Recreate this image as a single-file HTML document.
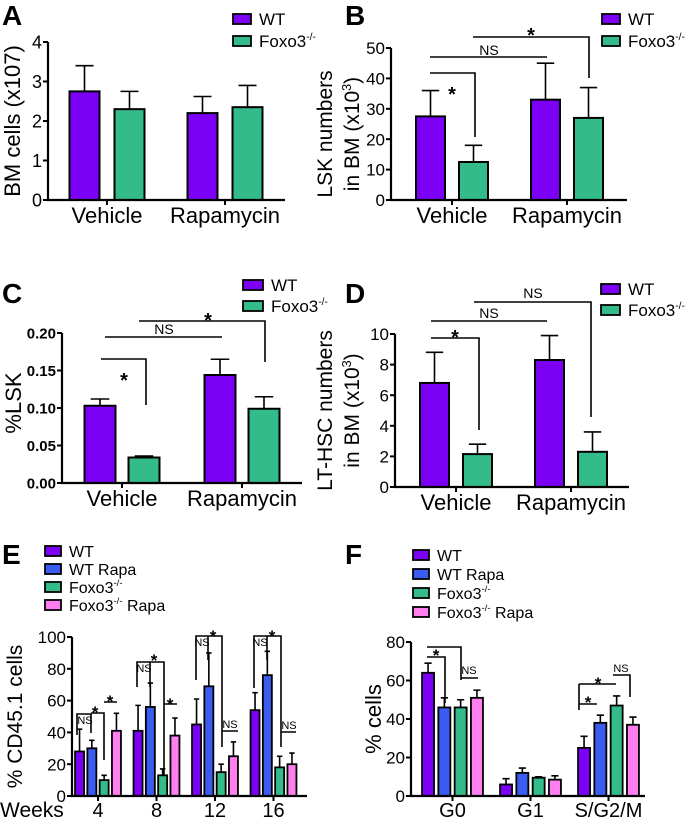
<!DOCTYPE html>
<html><head><meta charset="utf-8"><style>
html,body{margin:0;padding:0;background:#fff;}
svg{display:block;font-family:"Liberation Sans",Arial,sans-serif;}
</style></head><body>
<svg id="fig" width="686" height="822" viewBox="0 0 686 822" xmlns="http://www.w3.org/2000/svg">
<g id="static" fill="none" stroke="#000" stroke-width="1.6">
<path d="M430,73 H475 V137"/>
<path d="M430,57 H547"/>
<path d="M473,37 H589 V78"/>
<path d="M101,359 H146 V405"/>
<path d="M105,337 H222"/>
<path d="M139,321 H265 V362"/>
<path d="M431,338 H479 V430"/>
<path d="M431,321 H547"/>
<path d="M474,302 H591 V417"/>
<path d="M77,735 V714 H91 V733 M91,713 H104 V760 M104,702 H117 M137,687 V662 H150 V687 M150,662 H164 V777 M164,704 H177 M196,680 V636 H208 V660 M208,636 H222 V747 M222,731 H238 M254,688 V636 H267 V660 M267,636 H281 V747 M281,732 H296"/>
<path d="M427,657 H445 V703 M427,647 H461 V680 M461,678 H478 M579,704 H597 M579,684 H616 M613,675 H630 V697 M579,684 V710"/>
</g>
<g id="statictext" font-size="14" fill="#000">
<text x="452" y="101" font-size="20" font-weight="bold" text-anchor="middle">*</text>
<text x="489" y="55" font-size="14" text-anchor="middle">NS</text>
<text x="531" y="42" font-size="20" font-weight="bold" text-anchor="middle">*</text>
<text x="124" y="387" font-size="20" font-weight="bold" text-anchor="middle">*</text>
<text x="164" y="334" font-size="14" text-anchor="middle">NS</text>
<text x="208" y="327" font-size="20" font-weight="bold" text-anchor="middle">*</text>
<text x="455" y="344" font-size="20" font-weight="bold" text-anchor="middle">*</text>
<text x="489" y="318" font-size="14" text-anchor="middle">NS</text>
<text x="533" y="298" font-size="14" text-anchor="middle">NS</text>
<g font-size="11" text-anchor="middle">
<text x="85" y="724">NS</text>
<text x="144" y="672">NS</text>
<text x="202" y="646">NS</text>
<text x="230" y="728">NS</text>
<text x="260" y="646">NS</text>
<text x="289" y="729">NS</text>
<text x="469" y="674">NS</text>
<text x="621" y="672">NS</text>
</g>
<g font-size="17" font-weight="bold" text-anchor="middle">
<text x="95" y="718">*</text>
<text x="110" y="707">*</text>
<text x="154" y="666">*</text>
<text x="170" y="710">*</text>
<text x="213" y="642">*</text>
<text x="272" y="642">*</text>
<text x="436" y="661">*</text>
<text x="588" y="708">*</text>
<text x="598" y="689">*</text>
</g>
</g>
</svg>
<script>
// ---- data ----
const catsAD = ["Vehicle","Rapamycin"];
const seriesAD = ["WT","Foxo3-/-"];
const aVals = [[2.75,2.3],[2.2,2.35]];
const aErr  = [[3.4,2.75],[2.62,2.9]];
const aTicks = [0,1,2,3,4];
const bVals = [[27.5,12.5],[33,27]];
const bErr  = [[36,18],[45,37]];
const bTicks = [0,10,20,30,40,50];
const cVals = [[0.103,0.034],[0.144,0.099]];
const cErr  = [[0.112,0.036],[0.165,0.115]];
const cTicks = ["0.00","0.05","0.10","0.15","0.20"];
const dVals = [[6.8,2.15],[8.3,2.3]];
const dErr  = [[8.8,2.8],[9.9,3.6]];
const dTicks = [0,2,4,6,8,10];
const eCats = ["4","8","12","16"];
const seriesEF = ["WT","WT Rapa","Foxo3-/-","Foxo3-/- Rapa"];
const eVals = [[28,30,10,41],[41,56,13,38],[45,69,15,25],[54,76,18,20]];
const eErr  = [[42,35,13,52],[57,71,17,49],[61,90,20,34],[65,91,25,27]];
const eTicks = [0,20,40,60,80,100];
const fCats = ["G0","G1","S/G2/M"];
const fVals = [[64,46,46,51],[6,12,9.5,8.5],[25,38,47,37]];
const fErr  = [[69,51,50,55],[9,14.5,10,10.5],[31,42,52,41]];
const fTicks = [0,20,40,60,80];
const colors = ["#7c00f5","#3a5cf0","#33bb8a","#ff7ef0"];
const colorsAD = ["#7c00f5","#33bb8a"];

const NS="http://www.w3.org/2000/svg";
const svg=document.getElementById('fig');
function mk(tag,attrs,parent){const e=document.createElementNS(NS,tag);for(const k in attrs)e.setAttribute(k,attrs[k]);(parent||svg).appendChild(e);return e;}

function panel(p){
  const g=mk('g',{});
  
  
  const y=v=>p.y0-(v/p.vmax)*(p.y0-p.yTop);
  const gx=i=>p.c0+i*p.gs;
  const bx=(i,j,n)=>gx(i)+(j-(n-1)/2)*p.step-p.bw/2;
  p.vals.forEach((row,i)=>row.forEach((v,j)=>{
    const n=row.length, x=bx(i,j,n), e=p.err[i][j];
    const cx=x+p.bw/2;
    const ln=mk('path',{d:`M${cx},${y(v)} V${y(e)} M${cx-p.bw*0.3},${y(e)} H${cx+p.bw*0.3}`,stroke:'#000','stroke-width':1.6,fill:'none'},g);
    
    
    const r=mk('rect',{x:x,y:y(v),width:p.bw,height:p.y0-y(v),fill:p.colors[j],stroke:'#000','stroke-width':p.sw},g);
    
    
  }));
  const ax=mk('path',{d:`M${p.ax},${p.yTop} V${p.y0} H${p.xEnd}`,stroke:'#000','stroke-width':2.2,fill:'none'},g);
  
  
  p.ticks.forEach(t=>{
    const v=parseFloat(t), yy=y(v);
    mk('path',{d:`M${p.ax-5},${yy} H${p.ax}`,stroke:'#000','stroke-width':2},g);
    const tx=mk('text',{x:p.ax-6,y:yy+p.tfs*0.36,'text-anchor':'end','font-size':p.tfs,'font-weight':p.tbold?'bold':'normal'},g);
    tx.textContent=t;
    
    
  });
  p.cats.forEach((c,i)=>{
    mk('path',{d:`M${gx(i)},${p.y0} V${p.y0+5}`,stroke:'#000','stroke-width':2},g);
    const tx=mk('text',{x:gx(i),y:p.y0+p.cfs+1,'text-anchor':'middle','font-size':p.cfs},g);
    tx.textContent=c;
    
    
  });
  p.series.forEach((s,j)=>{
    const ly=p.leg[1]+j*p.leg[2];
    const r=mk('rect',{x:p.leg[0],y:ly,width:p.leg[3],height:10,fill:p.colors[j],stroke:'#000','stroke-width':1.8},g);
    
    
    const t=mk('text',{x:p.leg[0]+p.leg[3]+8,y:ly+11,'font-size':p.lfs},g);
    
    
    if(s.indexOf('-/-')>=0){
      const parts=s.split('-/-');
      t.appendChild(document.createTextNode(parts[0]));
      const sp=mk('tspan',{'font-size':p.lfs*0.6,dy:-7},t);sp.textContent='-/-';
      if(parts[1]){const sp2=mk('tspan',{dy:7},t);sp2.textContent=parts[1];}
    } else t.textContent=s;
  });
  p.ytitle.forEach((line,k)=>{
    const t=mk('text',{transform:`translate(${line[1]},${(p.y0+p.yTop)/2+(p.ymid||0)}) rotate(-90)`,'text-anchor':'middle','font-size':p.yfs},g);
    
    
    const txt=line[0];
    if(txt.indexOf('^')>=0){
      const [a,b]=txt.split('^');const [sup,rest]=b.split('|');
      t.appendChild(document.createTextNode(a));
      const s1=mk('tspan',{'font-size':p.yfs*0.6,dy:-8},t);s1.textContent=sup;
      const s2=mk('tspan',{dy:8},t);s2.textContent=rest;
    } else t.textContent=txt;
  });
  const L=mk('text',{x:p.letter[0],y:p.letter[1],'font-size':28,'font-weight':'bold'},g);
  L.textContent=p.letter[2];
  
  
}

panel({name:'panel-a',vals:aVals,err:aErr,cats:catsAD,series:seriesAD,colors:colorsAD,ticks:aTicks,vmax:4,y0:200,yTop:42,ax:48,xEnd:285,c0:107,gs:118,bw:30,step:45,sw:2,tfs:18,cfs:22,lfs:17,yfs:22,leg:[233,14,22,18],ytitle:[["BM cells (x107)",20]],letter:[2,25,'A']});
panel({name:'panel-b',vals:bVals,err:bErr,cats:catsAD,series:seriesAD,colors:colorsAD,ticks:bTicks,vmax:50,y0:200,yTop:48,ax:391,xEnd:627,c0:452,gs:115,bw:29,step:43,sw:2,tfs:17,cfs:22,lfs:17,yfs:21,leg:[602,14,22,18],ytitle:[["LSK numbers",332],["in BM (x10^3|)",359]],ymid:10,letter:[345,25,'B']});
panel({name:'panel-c',vals:cVals,err:cErr,cats:catsAD,series:seriesAD,colors:colorsAD,ticks:cTicks,vmax:0.2,y0:483,yTop:333,ax:62,xEnd:302,c0:122,gs:120,bw:31,step:44,sw:2,tfs:15,tbold:true,cfs:22,lfs:17,yfs:22,leg:[243,280,21,20],ytitle:[["%LSK",21]],ymid:-5,letter:[2,303,'C']});
panel({name:'panel-d',vals:dVals,err:dErr,cats:catsAD,series:seriesAD,colors:colorsAD,ticks:dTicks,vmax:10,y0:487,yTop:334,ax:395,xEnd:629,c0:456,gs:115,bw:29,step:43,sw:2,tfs:17,cfs:22,lfs:17,yfs:21,leg:[601,284,21,19],ytitle:[["LT-HSC numbers",332],["in BM (x10^3|)",359]],letter:[345,303,'D']});
panel({name:'panel-e',vals:eVals,err:eErr,cats:eCats,series:seriesEF,colors:colors,ticks:eTicks,vmax:100,y0:796,yTop:637,ax:72,xEnd:307,c0:98,gs:58.5,bw:9,step:12.3,sw:1.8,tfs:17,cfs:20,lfs:16,yfs:21,leg:[45,546,18,16],ytitle:[["% CD45.1 cells",22]],letter:[2,564,'E']});
panel({name:'panel-f',vals:fVals,err:fErr,cats:fCats,series:seriesEF,colors:colors,ticks:fTicks,vmax:80,y0:796,yTop:642,ax:411,xEnd:645,c0:452.5,gs:78,bw:12,step:16.3,sw:1.8,tfs:17,cfs:20,lfs:16,yfs:22,leg:[413,550,19,16],ytitle:[["% cells",381]],letter:[345,564,'F']});
const wk=mk('text',{x:0,y:817,'font-size':21});
wk.textContent='Weeks';


</script>
</body></html>
